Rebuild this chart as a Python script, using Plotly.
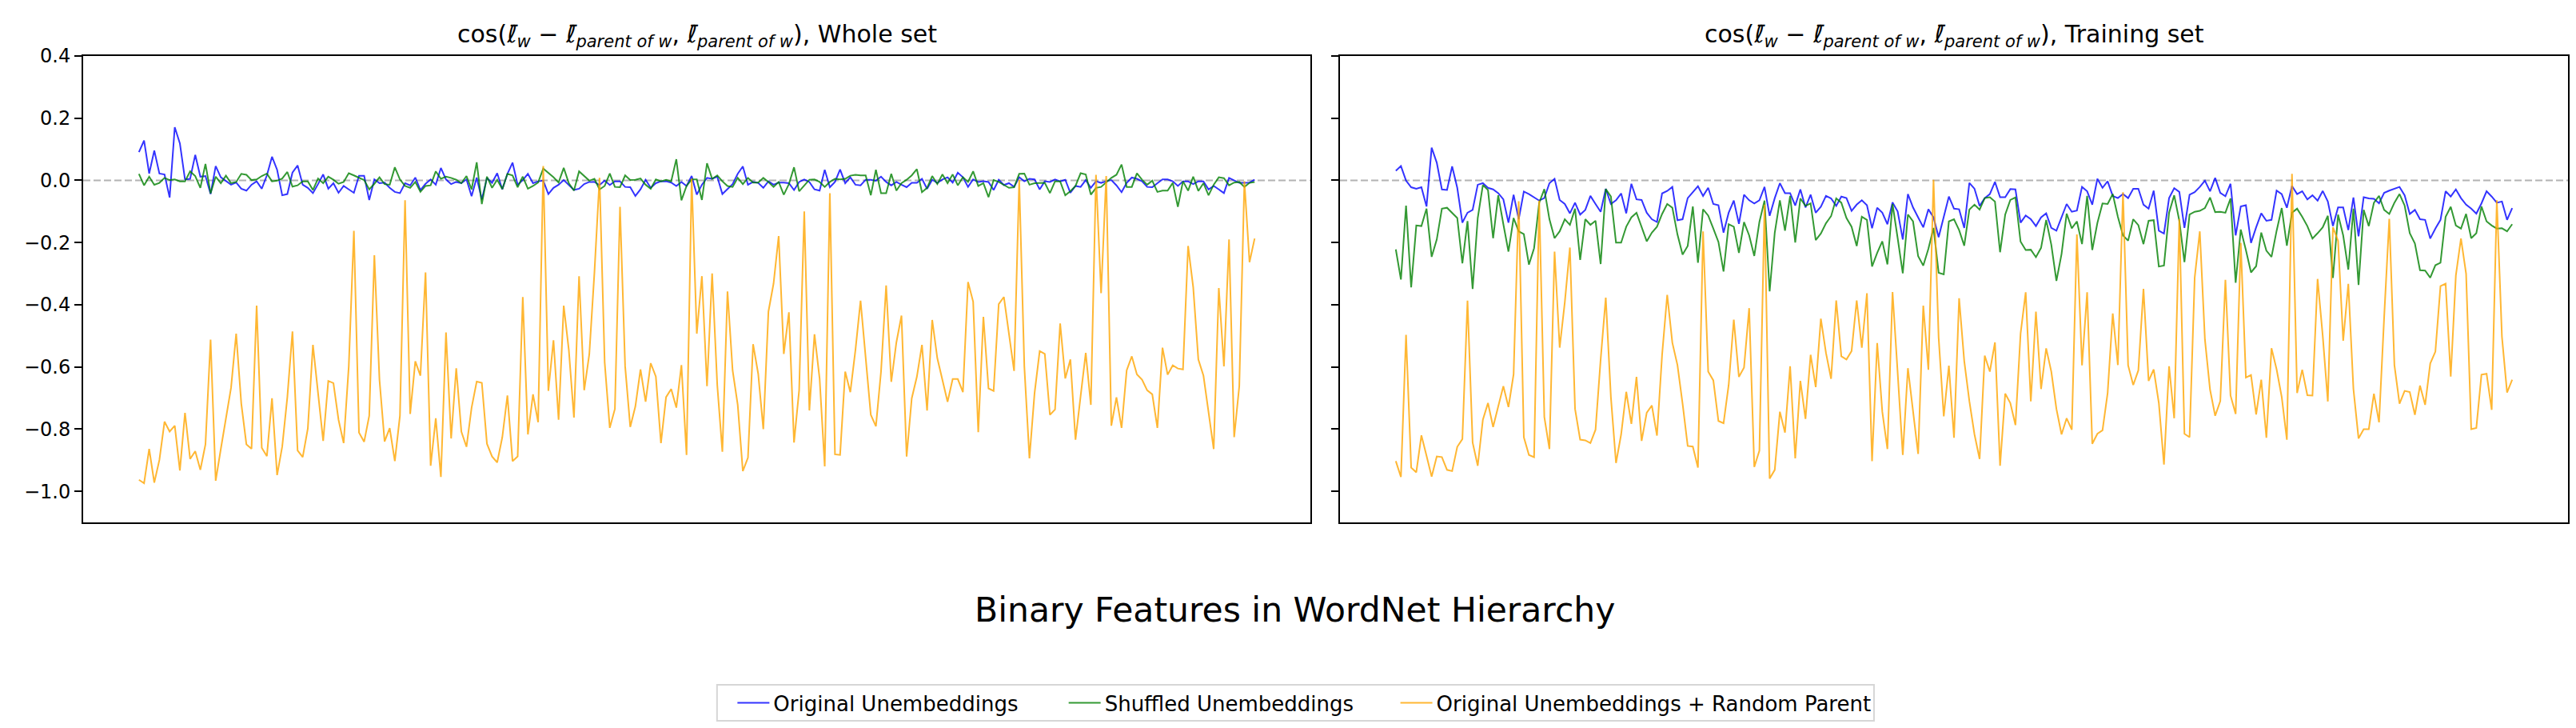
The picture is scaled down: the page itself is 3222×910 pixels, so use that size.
import plotly.graph_objects as go
from plotly.subplots import make_subplots

# Cosine values per binary feature
whole_orig = [
    0.091, 0.128, 0.022, 0.096, 0.022, 0.019, -0.055, 0.171, 0.119, 0.003,
    0.005, 0.082, 0.012, 0.014, -0.044, 0.046, 0.010, -0.003, -0.014, -0.007,
    -0.027, -0.033, -0.014, -0.003, -0.027, 0.016, 0.076, 0.034, -0.048, -0.044,
    0.025, 0.048, -0.014, -0.024, -0.041, -0.012, 0.019, -0.027, -0.009, -0.040,
    -0.018, -0.029, -0.040, 0.015, 0.015, -0.063, 0.003, -0.009, -0.007, -0.024,
    -0.037, -0.041, -0.009, -0.016, 0.009, -0.031, -0.011, 0.003, -0.014, 0.040,
    0.003, -0.012, -0.005, -0.009, 0.003, -0.051, 0.009, -0.061, 0.008, -0.008,
    0.023, -0.029, 0.021, 0.057, -0.014, 0.001, 0.021, -0.009, -0.003, -0.001,
    -0.044, -0.024, -0.014, 0.001, -0.014, -0.031, -0.027, -0.012, -0.005, -0.005,
    -0.015, -0.001, -0.015, -0.003, -0.003, -0.021, -0.022, -0.050, -0.029, 0.002,
    -0.024, -0.009, -0.003, -0.003, -0.007, -0.018, -0.005, -0.018, 0.014, -0.046,
    -0.014, 0.008, 0.005, 0.012, -0.044, -0.029, -0.012, 0.021, 0.045, -0.014,
    -0.005, -0.008, -0.024, -0.003, -0.014, -0.007, -0.007, -0.009, -0.031, -0.005,
    0.003, -0.005, -0.029, -0.033, 0.034, -0.022, -0.005, 0.035, -0.009, 0.010,
    -0.014, -0.016, 0.002, 0.002, -0.001, 0.012, -0.005, -0.016, -0.005, -0.014,
    -0.022, -0.008, -0.008, 0.005, -0.027, 0.002, -0.008, 0.003, 0.010, -0.007,
    0.025, 0.010, -0.021, 0.003, -0.005, -0.003, -0.005, -0.031, 0.002, -0.015,
    -0.009, -0.021, 0.010, -0.003, 0.005, 0.003, -0.029, -0.003, -0.005, 0.003,
    -0.003, 0.002, -0.040, -0.018, -0.021, 0.001, -0.024, -0.003, -0.008, -0.003,
    0.001, -0.016, -0.038, -0.008, 0.009, 0.005, -0.003, -0.021, -0.022, -0.009,
    0.003, 0.003, -0.003, -0.018, -0.003, -0.003, -0.012, -0.003, -0.003, -0.029,
    -0.018, -0.029, -0.041, 0.008, -0.001, -0.008, -0.008, -0.007, 0.002,
]
whole_shuf = [
    0.021, -0.016, 0.012, -0.014, -0.008, 0.008, 0.001, 0.003, -0.003, -0.003,
    0.029, 0.014, -0.024, 0.053, -0.042, 0.012, -0.009, 0.015, -0.009, -0.005,
    0.021, 0.018, 0.001, 0.003, 0.014, 0.022, -0.003, -0.001, 0.006, 0.027,
    -0.020, -0.016, -0.003, -0.003, -0.031, 0.006, -0.009, 0.012, 0.002, -0.011,
    -0.005, 0.023, 0.016, 0.008, 0.001, -0.029, -0.011, 0.010, -0.012, -0.014,
    0.042, 0.003, -0.018, -0.024, -0.005, -0.037, -0.018, -0.016, 0.029, 0.005,
    0.012, 0.008, 0.002, -0.009, 0.014, -0.029, 0.058, -0.076, 0.012, -0.024,
    0.002, -0.028, 0.021, 0.016, -0.022, 0.012, -0.027, -0.018, -0.007, 0.038,
    0.025, 0.010, -0.007, 0.040, -0.009, -0.033, 0.029, 0.014, -0.001, 0.005,
    -0.029, -0.018, 0.022, -0.021, -0.022, 0.016, 0.001, 0.002, 0.006, -0.014,
    -0.027, 0.003, -0.003, 0.002, -0.003, 0.068, -0.064, -0.018, 0.003, 0.003,
    -0.063, 0.055, 0.005, 0.016, -0.003, -0.018, -0.021, 0.008, -0.012, 0.008,
    -0.007, -0.007, 0.008, -0.005, -0.021, -0.005, -0.046, -0.012, 0.042, -0.035,
    -0.015, 0.002, 0.003, -0.005, -0.021, -0.005, 0.005, 0.003, 0.005, 0.015,
    0.018, 0.016, 0.016, -0.048, 0.034, -0.041, -0.041, 0.021, -0.033, -0.009,
    0.002, 0.016, 0.036, -0.038, -0.024, 0.014, -0.012, 0.019, -0.009, 0.019,
    -0.016, 0.010, -0.005, 0.029, -0.018, -0.009, -0.054, 0.001, -0.005, -0.014,
    -0.024, -0.022, 0.021, 0.022, -0.014, -0.009, -0.009, -0.008, -0.041, -0.003,
    -0.003, -0.048, -0.035, -0.018, 0.023, 0.019, -0.046, -0.024, -0.021, -0.007,
    0.008, 0.018, 0.051, -0.021, -0.021, 0.023, 0.002, -0.014, -0.001, -0.037,
    -0.033, -0.033, -0.008, -0.085, -0.003, -0.033, 0.012, -0.034, -0.009, -0.048,
    -0.014, 0.010, 0.007, -0.016, -0.007, -0.005, -0.021, -0.008, -0.005,
]
whole_rand = [
    -0.963, -0.974, -0.864, -0.972, -0.899, -0.776, -0.808, -0.789, -0.933, -0.748,
    -0.896, -0.871, -0.931, -0.849, -0.512, -0.966, -0.864, -0.761, -0.667, -0.493,
    -0.718, -0.849, -0.863, -0.403, -0.860, -0.887, -0.701, -0.948, -0.856, -0.697,
    -0.486, -0.869, -0.890, -0.798, -0.529, -0.684, -0.838, -0.645, -0.652, -0.770,
    -0.845, -0.598, -0.162, -0.811, -0.841, -0.757, -0.241, -0.641, -0.840, -0.797,
    -0.903, -0.757, -0.064, -0.751, -0.582, -0.628, -0.296, -0.918, -0.765, -0.954,
    -0.489, -0.830, -0.604, -0.808, -0.857, -0.731, -0.647, -0.651, -0.847, -0.888,
    -0.907, -0.826, -0.692, -0.903, -0.888, -0.375, -0.817, -0.688, -0.778, 0.046,
    -0.677, -0.514, -0.770, -0.403, -0.546, -0.763, -0.308, -0.675, -0.559, -0.297,
    0.008, -0.585, -0.796, -0.735, -0.085, -0.598, -0.793, -0.727, -0.608, -0.712,
    -0.588, -0.631, -0.845, -0.697, -0.671, -0.731, -0.594, -0.883, 0.005, -0.493,
    -0.308, -0.662, -0.299, -0.658, -0.873, -0.357, -0.611, -0.722, -0.935, -0.892,
    -0.527, -0.622, -0.800, -0.422, -0.332, -0.179, -0.558, -0.424, -0.843, -0.675,
    -0.100, -0.740, -0.495, -0.637, -0.920, -0.041, -0.881, -0.883, -0.615, -0.681,
    -0.546, -0.387, -0.576, -0.754, -0.791, -0.615, -0.338, -0.648, -0.521, -0.435,
    -0.888, -0.701, -0.632, -0.529, -0.740, -0.449, -0.572, -0.645, -0.712, -0.639,
    -0.639, -0.681, -0.327, -0.390, -0.810, -0.439, -0.669, -0.677, -0.398, -0.375,
    -0.495, -0.613, 0.002, -0.598, -0.894, -0.684, -0.549, -0.558, -0.754, -0.737,
    -0.460, -0.637, -0.576, -0.834, -0.694, -0.555, -0.722, 0.018, -0.363, 0.014,
    -0.789, -0.698, -0.796, -0.611, -0.566, -0.624, -0.641, -0.675, -0.688, -0.796,
    -0.538, -0.625, -0.595, -0.605, -0.608, -0.211, -0.344, -0.576, -0.628, -0.748,
    -0.864, -0.346, -0.598, -0.190, -0.826, -0.662, -0.003, -0.263, -0.187,
]

train_orig = [
    0.031, 0.046, -0.001, -0.022, -0.027, -0.022, -0.084, 0.105, 0.057, -0.029,
    -0.031, 0.045, -0.024, -0.136, -0.104, -0.095, -0.014, -0.009, -0.024, -0.029,
    -0.041, -0.061, -0.136, -0.046, -0.125, -0.036, -0.044, -0.054, -0.065, -0.057,
    -0.009, 0.005, -0.063, -0.076, -0.106, -0.072, -0.110, -0.095, -0.050, -0.076,
    -0.101, -0.027, -0.076, -0.064, -0.042, -0.106, -0.011, -0.061, -0.063, -0.104,
    -0.125, -0.134, -0.042, -0.034, -0.021, -0.128, -0.125, -0.057, -0.038, -0.019,
    -0.050, -0.024, -0.076, -0.080, -0.168, -0.104, -0.065, -0.140, -0.046, -0.064,
    -0.074, -0.064, -0.021, -0.114, -0.057, -0.009, -0.041, -0.041, -0.081, -0.029,
    -0.087, -0.046, -0.104, -0.085, -0.050, -0.058, -0.082, -0.052, -0.057, -0.098,
    -0.078, -0.064, -0.080, -0.154, -0.088, -0.104, -0.141, -0.071, -0.100, -0.190,
    -0.044, -0.087, -0.119, -0.151, -0.093, -0.119, -0.183, -0.121, -0.052, -0.091,
    -0.093, -0.153, -0.008, -0.027, -0.082, -0.057, -0.044, -0.005, -0.054, -0.054,
    -0.028, -0.029, -0.136, -0.113, -0.125, -0.147, -0.119, -0.106, -0.153, -0.162,
    -0.119, -0.076, -0.101, -0.097, -0.021, -0.035, -0.078, 0.005, -0.024, -0.003,
    -0.050, -0.057, -0.044, -0.057, -0.027, -0.027, -0.078, -0.091, -0.033, -0.162,
    -0.171, -0.057, -0.025, -0.037, -0.153, -0.046, -0.038, -0.021, -0.001, -0.035,
    0.008, -0.040, -0.051, -0.011, -0.177, -0.084, -0.080, -0.201, -0.151, -0.106,
    -0.130, -0.127, -0.033, -0.044, -0.088, -0.018, -0.044, -0.035, -0.061, -0.048,
    -0.065, -0.034, -0.068, -0.147, -0.087, -0.087, -0.160, -0.055, -0.180, -0.054,
    -0.058, -0.059, -0.074, -0.040, -0.033, -0.027, -0.021, -0.048, -0.108, -0.095,
    -0.125, -0.127, -0.187, -0.155, -0.127, -0.035, -0.052, -0.029, -0.057, -0.078,
    -0.091, -0.107, -0.074, -0.035, -0.052, -0.072, -0.068, -0.127, -0.089,
]
train_shuf = [
    -0.222, -0.319, -0.081, -0.344, -0.145, -0.147, -0.091, -0.246, -0.190, -0.091,
    -0.088, -0.104, -0.121, -0.267, -0.131, -0.349, -0.121, -0.015, -0.031, -0.186,
    -0.048, -0.141, -0.229, -0.121, -0.164, -0.173, -0.271, -0.218, -0.072, -0.028,
    -0.125, -0.186, -0.164, -0.125, -0.143, -0.091, -0.256, -0.125, -0.143, -0.130,
    -0.269, -0.028, -0.052, -0.200, -0.200, -0.149, -0.119, -0.104, -0.151, -0.196,
    -0.168, -0.149, -0.108, -0.076, -0.088, -0.174, -0.239, -0.211, -0.084, -0.265,
    -0.093, -0.113, -0.155, -0.198, -0.293, -0.141, -0.149, -0.233, -0.134, -0.177,
    -0.243, -0.134, -0.065, -0.357, -0.168, -0.064, -0.162, -0.050, -0.200, -0.058,
    -0.082, -0.074, -0.192, -0.171, -0.138, -0.115, -0.058, -0.072, -0.121, -0.149,
    -0.211, -0.117, -0.127, -0.277, -0.233, -0.196, -0.270, -0.076, -0.186, -0.299,
    -0.110, -0.132, -0.244, -0.274, -0.220, -0.153, -0.297, -0.302, -0.132, -0.125,
    -0.160, -0.210, -0.094, -0.078, -0.094, -0.057, -0.054, -0.068, -0.231, -0.110,
    -0.063, -0.055, -0.197, -0.224, -0.223, -0.247, -0.217, -0.127, -0.207, -0.323,
    -0.237, -0.107, -0.154, -0.132, -0.205, -0.050, -0.224, -0.137, -0.074, -0.076,
    -0.044, -0.117, -0.177, -0.194, -0.125, -0.144, -0.205, -0.130, -0.128, -0.277,
    -0.274, -0.104, -0.048, -0.130, -0.263, -0.110, -0.101, -0.098, -0.089, -0.055,
    -0.102, -0.101, -0.104, -0.058, -0.329, -0.158, -0.224, -0.296, -0.276, -0.168,
    -0.226, -0.246, -0.162, -0.089, -0.210, -0.104, -0.091, -0.117, -0.147, -0.187,
    -0.170, -0.151, -0.114, -0.314, -0.110, -0.177, -0.287, -0.091, -0.336, -0.095,
    -0.147, -0.072, -0.050, -0.095, -0.108, -0.072, -0.044, -0.081, -0.170, -0.203,
    -0.289, -0.290, -0.313, -0.273, -0.265, -0.117, -0.085, -0.145, -0.155, -0.108,
    -0.186, -0.170, -0.084, -0.132, -0.145, -0.155, -0.154, -0.164, -0.141,
]
train_rand = [
    -0.903, -0.954, -0.497, -0.924, -0.939, -0.820, -0.886, -0.953, -0.888, -0.890,
    -0.931, -0.935, -0.857, -0.832, -0.387, -0.843, -0.918, -0.770, -0.716, -0.793,
    -0.727, -0.662, -0.729, -0.624, -0.067, -0.826, -0.883, -0.890, -0.065, -0.761,
    -0.864, -0.229, -0.538, -0.392, -0.216, -0.735, -0.834, -0.836, -0.845, -0.802,
    -0.576, -0.377, -0.697, -0.909, -0.817, -0.680, -0.783, -0.632, -0.838, -0.747,
    -0.724, -0.821, -0.561, -0.368, -0.522, -0.594, -0.718, -0.854, -0.856, -0.924,
    -0.164, -0.615, -0.643, -0.774, -0.781, -0.658, -0.448, -0.632, -0.602, -0.411,
    -0.922, -0.869, -0.078, -0.959, -0.931, -0.744, -0.811, -0.598, -0.894, -0.645,
    -0.767, -0.561, -0.665, -0.445, -0.555, -0.638, -0.386, -0.566, -0.576, -0.549,
    -0.386, -0.538, -0.363, -0.903, -0.523, -0.744, -0.864, -0.359, -0.619, -0.883,
    -0.604, -0.744, -0.880, -0.403, -0.609, 0.002, -0.505, -0.759, -0.596, -0.828,
    -0.379, -0.581, -0.710, -0.817, -0.896, -0.564, -0.615, -0.521, -0.918, -0.686,
    -0.716, -0.787, -0.493, -0.360, -0.711, -0.422, -0.671, -0.540, -0.615, -0.735,
    -0.817, -0.765, -0.802, -0.174, -0.595, -0.360, -0.847, -0.815, -0.804, -0.684,
    -0.428, -0.594, -0.038, -0.595, -0.658, -0.611, -0.349, -0.645, -0.608, -0.716,
    -0.914, -0.598, -0.765, -0.124, -0.815, -0.826, -0.313, -0.164, -0.512, -0.673,
    -0.757, -0.710, -0.320, -0.692, -0.751, -0.201, -0.634, -0.626, -0.753, -0.641,
    -0.828, -0.540, -0.608, -0.697, -0.834, 0.021, -0.684, -0.609, -0.691, -0.692,
    -0.317, -0.499, -0.711, -0.151, -0.194, -0.516, -0.333, -0.671, -0.830, -0.800,
    -0.800, -0.686, -0.778, -0.439, -0.124, -0.594, -0.718, -0.677, -0.681, -0.754,
    -0.660, -0.722, -0.589, -0.551, -0.340, -0.332, -0.631, -0.306, -0.187, -0.300,
    -0.800, -0.796, -0.625, -0.622, -0.738, -0.064, -0.503, -0.682, -0.641,
]

series_names = [
    "Original Unembeddings",
    "Shuffled Unembeddings",
    "Original Unembeddings + Random Parent",
]
series_colors = ["rgba(0,0,255,0.8)", "rgba(0,128,0,0.8)", "rgba(255,165,0,0.8)"]
panel_names = ["Whole set", "Training set"]

FONT = "DejaVu Sans"
LBAR = "<i>\u2113\u0304</i>"
cos_label = (
    f"cos({LBAR}<sub><i>w</i></sub> \u2212 {LBAR}<sub><i>parent of w</i></sub>, "
    f"{LBAR}<sub><i>parent of w</i></sub>)"
)

fig = make_subplots(rows=1, cols=2, shared_yaxes=True)

# one legend per series so the entries can be spread like the original
legend_ids = ["legend", "legend2", "legend3"]

panels = [
    [whole_orig, whole_shuf, whole_rand],
    [train_orig, train_shuf, train_rand],
]
for col, panel in enumerate(panels, start=1):
    for name, color, values, leg in zip(series_names, series_colors, panel, legend_ids):
        fig.add_trace(
            go.Scatter(
                x=list(range(len(values))),
                y=values,
                mode="lines",
                name=name,
                line=dict(color=color, width=2),
                showlegend=(col == 1),
                legend=leg,
            ),
            row=1, col=col,
        )
    # dashed zero line across the panel
    xref = "x domain" if col == 1 else "x2 domain"
    yref = "y" if col == 1 else "y2"
    fig.add_shape(
        type="line", xref=xref, yref=yref, x0=0, x1=1, y0=0, y1=0,
        line=dict(color="rgba(128,128,128,0.6)", width=2, dash="9px,4px"),
        layer="below",
    )

domains = [[0, 0.4939], [0.5058, 1.0]]
for i, dom in enumerate(domains, start=1):
    fig.update_xaxes(
        domain=dom, range=[-10.9, 228.9], showticklabels=False, ticks="",
        showgrid=False, zeroline=False, showline=True, mirror=True,
        linecolor="black", linewidth=2, row=1, col=i,
    )
    fig.update_yaxes(
        range=[-1.1, 0.4], tickvals=[-1.0, -0.8, -0.6, -0.4, -0.2, 0.0, 0.2, 0.4],
        tickformat=".1f", ticks="outside", ticklen=9, tickwidth=2, tickcolor="black",
        showgrid=False, zeroline=False, showline=True, mirror=True,
        linecolor="black", linewidth=2, showticklabels=(i == 1),
        tickfont=dict(size=24, color="black"), row=1, col=i,
    )
    fig.add_annotation(
        text=f"{cos_label}, {panel_names[i - 1]}",
        xref="paper", yref="paper", x=(dom[0] + dom[1]) / 2, y=1.0,
        xanchor="center", yanchor="bottom", yshift=4, showarrow=False,
        font=dict(size=30, color="black", family=FONT),
    )

fig.add_annotation(
    text="Binary Features in WordNet Hierarchy",
    xref="paper", yref="paper", x=0.4875, y=-0.187,
    xanchor="center", yanchor="middle", showarrow=False,
    font=dict(size=42.5, color="black", family=FONT),
)

# legend frame (light grey box around the three entries)
fig.add_shape(
    type="rect", xref="paper", yref="paper",
    x0=0.2551, x1=0.7207, y0=-0.4254, y1=-0.3482,
    line=dict(color="#d6d6d6", width=2), fillcolor="white", layer="below",
)

legend_style = dict(
    orientation="h", xanchor="left", y=-0.3868, yanchor="middle",
    font=dict(size=26, color="black"), bgcolor="rgba(0,0,0,0)", borderwidth=0,
    itemwidth=40,
)
fig.update_layout(
    width=3222, height=910,
    margin=dict(l=96, r=18, t=62, b=265),
    paper_bgcolor="white", plot_bgcolor="white",
    font=dict(family=FONT, color="black"),
    legend=dict(x=0.2617, **legend_style),
    legend2=dict(x=0.3950, **legend_style),
    legend3=dict(x=0.5285, **legend_style),
)

fig.write_html("out.html")
